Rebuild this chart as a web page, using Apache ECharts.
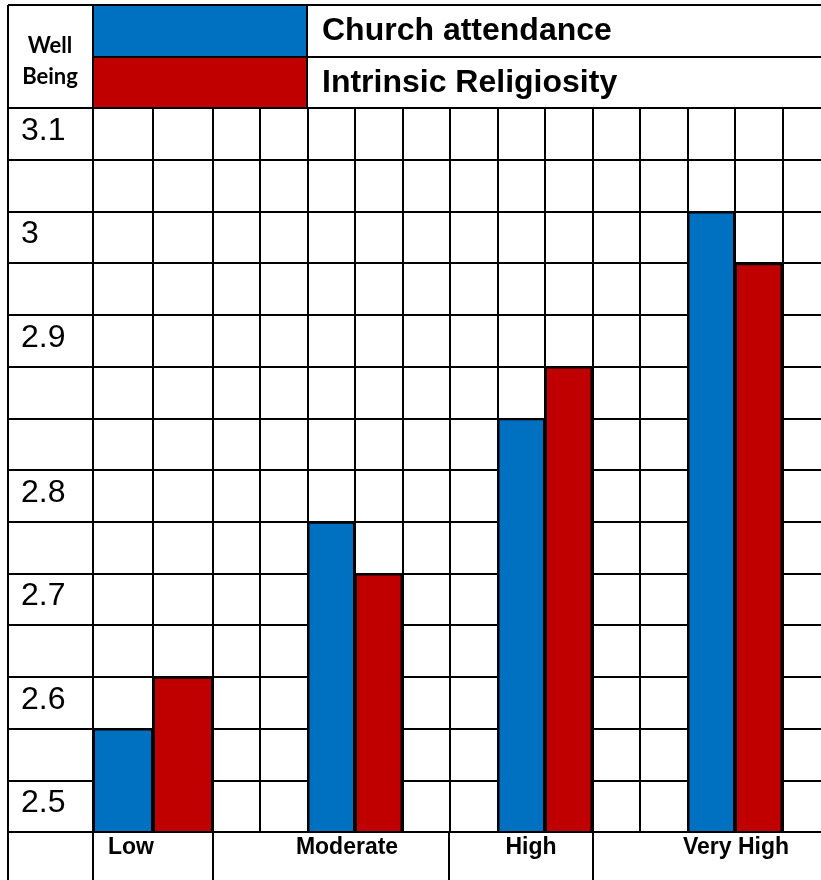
<!DOCTYPE html>
<html>
<head>
<meta charset="utf-8">
<script src="https://cdn.jsdelivr.net/npm/echarts@6/dist/echarts.min.js"></script>
<style>
  html, body { margin: 0; padding: 0; background: #fff; }
  #chart { width: 821px; height: 880px; }
</style>
</head>
<body>
<div id="chart"></div>
<script>
// data
const categories = ['Low', 'Moderate', 'High', 'Very High'];
const churchAttendance = [2.55, 2.75, 2.85, 3.05];
const intrinsicReligiosity = [2.60, 2.70, 2.90, 3.00];
// row labels of the well being column, top row first
const rowLabels = ['3.1', '', '3', '', '2.9', '', '', '2.8', '', '2.7', '', '2.6', '', '2.5'];
const seriesNames = ['Church attendance', 'Intrinsic Religiosity'];
const yMin = 2.45, yMax = 3.15, yStep = 0.05;

const BLUE = '#0070C0', RED = '#C00000';
const LINE = { color: '#000', width: 2 };
const FONT = 'Liberation Sans, Arial, sans-serif';

const chart = echarts.init(document.getElementById('chart'));

function hiddenY(gridIndex) {
  return { type: 'value', gridIndex: gridIndex, min: yMin, max: yMax, interval: yStep, show: false };
}
function columnLines(gridIndex, cols) {
  return {
    type: 'value', gridIndex: gridIndex, min: 0, max: cols, interval: 1,
    axisLine: { show: false }, axisTick: { show: false }, axisLabel: { show: false },
    splitLine: { show: true, lineStyle: LINE }
  };
}
const catLabel = { color: '#000', fontFamily: FONT, fontSize: 23, fontWeight: 'bold', margin: 4, interval: 0 };
const barStyle = (c) => ({ color: c, borderColor: '#000', borderWidth: 2 });

function hline(x1, x2, y) {
  return { type: 'line', z: 100, shape: { x1: x1, y1: y, x2: x2, y2: y }, style: { stroke: '#000', lineWidth: 2 } };
}
function vline(x, y1, y2) {
  return { type: 'line', z: 100, shape: { x1: x, y1: y1, x2: x, y2: y2 }, style: { stroke: '#000', lineWidth: 2 } };
}

chart.setOption({
  animation: false,
  grid: [
    // whole table: rows + label column (runs past the right edge like the original)
    { left: 8, width: 822, top: 108, bottom: 48, outerBoundsMode: 'none' },
    { left: 93, width: 120, top: 108, bottom: 48, outerBoundsMode: 'none' },   // Low
    { left: 260, width: 570, top: 108, bottom: 48, outerBoundsMode: 'none' }   // Moderate .. Very High
  ],
  legend: {
    data: seriesNames,
    orient: 'vertical', left: 93, top: 5, padding: 0, itemGap: 0,
    itemWidth: 214, itemHeight: 52, icon: 'rect', selectedMode: false,
    itemStyle: { borderWidth: 0 },
    textStyle: { color: '#000', fontFamily: FONT, fontSize: 32, fontWeight: 'bold', padding: [5, 0, 0, 10] }
  },
  xAxis: [
    { type: 'value', gridIndex: 0, show: false },
    {
      type: 'category', gridIndex: 1, data: categories.slice(0, 1),
      axisLine: { show: false }, axisTick: { show: false },
      axisLabel: Object.assign({}, catLabel, { padding: [0, 44, 0, 0] })
    },
    columnLines(1, 2),
    {
      type: 'category', gridIndex: 2, data: categories.slice(1),
      axisLine: { show: false }, axisTick: { show: false },
      axisLabel: Object.assign({}, catLabel, {
        formatter: (v, i) => '{c' + i + '|' + v + '}',
        rich: {
          c0: { padding: [0, 16, 0, 0] },
          c1: { padding: [0, 28, 0, 0] },
          c2: { padding: [0, 0, 0, 2] }
        }
      })
    },
    columnLines(2, 12)
  ],
  yAxis: [
    {
      type: 'value', gridIndex: 0, min: yMin, max: yMax, interval: yStep,
      axisLine: { show: false }, axisTick: { show: false },
      splitLine: { show: true, lineStyle: LINE },
      axisLabel: {
        inside: true, margin: 13, color: '#000', fontFamily: FONT, fontSize: 32,
        verticalAlign: 'middle', lineHeight: 46,
        // label sits in the cell below its grid line
        formatter: (v) => {
          const k = Math.round((v - yMin) / yStep);
          const t = k > 0 ? rowLabels[rowLabels.length - k] : '';
          return t ? ' \n' + t : '';
        }
      }
    },
    hiddenY(1),
    hiddenY(2)
  ],
  series: [
    { name: seriesNames[0], type: 'bar', xAxisIndex: 1, yAxisIndex: 1, barGap: 0, barCategoryGap: 0,
      data: churchAttendance.slice(0, 1), itemStyle: barStyle(BLUE) },
    { name: seriesNames[1], type: 'bar', xAxisIndex: 1, yAxisIndex: 1, barGap: 0, barCategoryGap: 0,
      data: intrinsicReligiosity.slice(0, 1), itemStyle: barStyle(RED) },
    { name: seriesNames[0], type: 'bar', xAxisIndex: 3, yAxisIndex: 2, barGap: 0, barCategoryGap: '50%',
      data: churchAttendance.slice(1), itemStyle: barStyle(BLUE) },
    { name: seriesNames[1], type: 'bar', xAxisIndex: 3, yAxisIndex: 2, barGap: 0, barCategoryGap: '50%',
      data: intrinsicReligiosity.slice(1), itemStyle: barStyle(RED) }
  ],
  graphic: [
    hline(8, 821, 5),
    hline(93, 821, 57),
    hline(8, 821, 108),
    vline(8, 5, 880),
    vline(93, 5, 108),
    vline(93, 832, 880),
    vline(307, 5, 108),
    vline(213, 832, 880),
    vline(449, 832, 880),
    vline(593, 832, 880),
    {
      type: 'text', z: 100,
      style: {
        text: 'Well\nBeing', x: 50, y: 61, align: 'center', verticalAlign: 'middle',
        fontFamily: 'Lato, sans-serif', fontSize: 22, fontWeight: 'bold', lineHeight: 31, fill: '#000'
      }
    }
  ]
});
</script>
</body>
</html>
